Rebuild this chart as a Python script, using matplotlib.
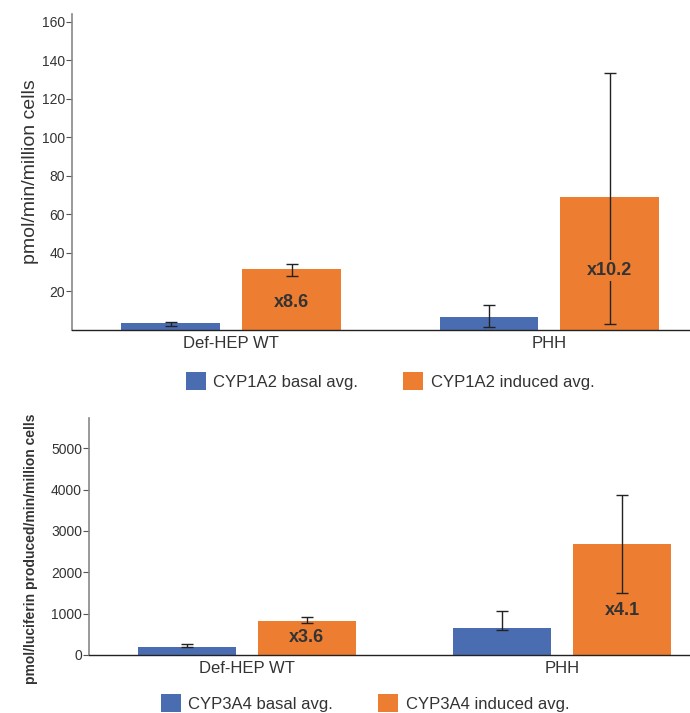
import matplotlib
matplotlib.use("Agg")
import matplotlib.pyplot as plt
import numpy as np

plt.rcParams["font.family"] = ["Liberation Sans", "DejaVu Sans"]

categories = ["Def-HEP WT", "PHH"]

# CYP1A2 (pmol/min/million cells)
cyp1a2_basal = [3.4, 6.9]
cyp1a2_basal_err_lo = [1.2, 5.6]
cyp1a2_basal_err_hi = [1.0, 5.9]
cyp1a2_induced = [31.5, 69.0]
cyp1a2_induced_err_lo = [3.3, 66.0]
cyp1a2_induced_err_hi = [2.8, 64.5]
cyp1a2_fold = ["x8.6", "x10.2"]
cyp1a2_fold_y = [14.5, 31.0]

# CYP3A4 (pmol/luciferin produced/min/million cells)
cyp3a4_basal = [195, 660]
cyp3a4_basal_err_lo = [0, 56]
cyp3a4_basal_err_hi = [78, 403]
cyp3a4_induced = [821, 2688]
cyp3a4_induced_err_lo = [41, 1190]
cyp3a4_induced_err_hi = [89, 1192]
cyp3a4_fold = ["x3.6", "x4.1"]
cyp3a4_fold_y = [420, 1077]

BLUE = "#4A6DB2"
ORANGE = "#ED7D31"
TEXT = "#333333"


def draw_panel(ax, basal, b_lo, b_hi, induced, i_lo, i_hi, fold, fold_y, xmax):
    x = np.arange(len(categories))
    width = 0.31
    off = 0.19
    b1 = ax.bar(x - off, basal, width, color=BLUE, zorder=2)
    b2 = ax.bar(x + off, induced, width, color=ORANGE, zorder=2)
    ax.errorbar(x - off, basal, yerr=[b_lo, b_hi], fmt="none", ecolor="#222222",
                elinewidth=1, capsize=4, capthick=1, zorder=3)
    ax.errorbar(x + off, induced, yerr=[i_lo, i_hi], fmt="none", ecolor="#222222",
                elinewidth=1, capsize=4, capthick=1, zorder=3)
    for xi, label, yi in zip(x + off, fold, fold_y):
        ax.text(xi, yi, label, ha="center", va="center", fontsize=13,
                fontweight="bold", color=TEXT, zorder=4,
                bbox=dict(facecolor=ORANGE, edgecolor="none", pad=1.5))
    ax.set_xlim(-0.5, xmax)
    ax.set_xticks(x)
    ax.set_xticklabels(categories, fontsize=12, color=TEXT)
    ax.tick_params(axis="x", length=0, pad=4)
    ax.tick_params(axis="y", direction="out", length=4, width=0.8,
                   color="#555555", labelsize=10, labelcolor=TEXT, pad=1)
    for side in ["top", "right"]:
        ax.spines[side].set_visible(False)
    ax.spines["left"].set_color("#888888")
    ax.spines["left"].set_linewidth(1.2)
    ax.spines["bottom"].set_color("#222222")
    ax.spines["bottom"].set_linewidth(1.0)
    return b1, b2


def main():
    figure = plt.figure(figsize=(6.9, 7.13), dpi=100)
    legend_style = dict(loc="center", ncol=2, frameon=False, fontsize=12,
                        handlelength=1.2, handleheight=1.2, handletextpad=0.45,
                        columnspacing=2.7, labelcolor=TEXT)

    top = figure.add_axes([72/690, 1 - 330/713, 1 - 72/690, 316/713])
    b1, b2 = draw_panel(top, cyp1a2_basal, cyp1a2_basal_err_lo, cyp1a2_basal_err_hi,
                        cyp1a2_induced, cyp1a2_induced_err_lo, cyp1a2_induced_err_hi,
                        cyp1a2_fold, cyp1a2_fold_y, 1.442)
    top.set_ylim(0, 164)
    top.set_yticks(np.arange(20, 161, 20))
    top.set_ylabel("pmol/min/million cells", fontsize=14, color=TEXT, labelpad=2)
    figure.legend([b1, b2], ["CYP1A2 basal avg.", "CYP1A2 induced avg."],
                  bbox_to_anchor=(390/690, 1 - 381/713), **legend_style)

    bottom = figure.add_axes([89/690, 1 - 655/713, 1 - 89/690, 237/713])
    b3, b4 = draw_panel(bottom, cyp3a4_basal, cyp3a4_basal_err_lo, cyp3a4_basal_err_hi,
                        cyp3a4_induced, cyp3a4_induced_err_lo, cyp3a4_induced_err_hi,
                        cyp3a4_fold, cyp3a4_fold_y, 1.405)
    bottom.set_ylim(0, 5730)
    bottom.set_yticks(np.arange(0, 5001, 1000))
    bottom.set_ylabel("pmol/luciferin produced/min/million cells", fontsize=10,
                      fontweight="bold", color=TEXT)
    bottom.yaxis.set_label_coords(-0.085, 0.45)
    figure.legend([b3, b4], ["CYP3A4 basal avg.", "CYP3A4 induced avg."],
                  bbox_to_anchor=(365/690, 1 - 703/713), **legend_style)

    figure.savefig("out.png", dpi=100)


if __name__ == "__main__":
    main()
